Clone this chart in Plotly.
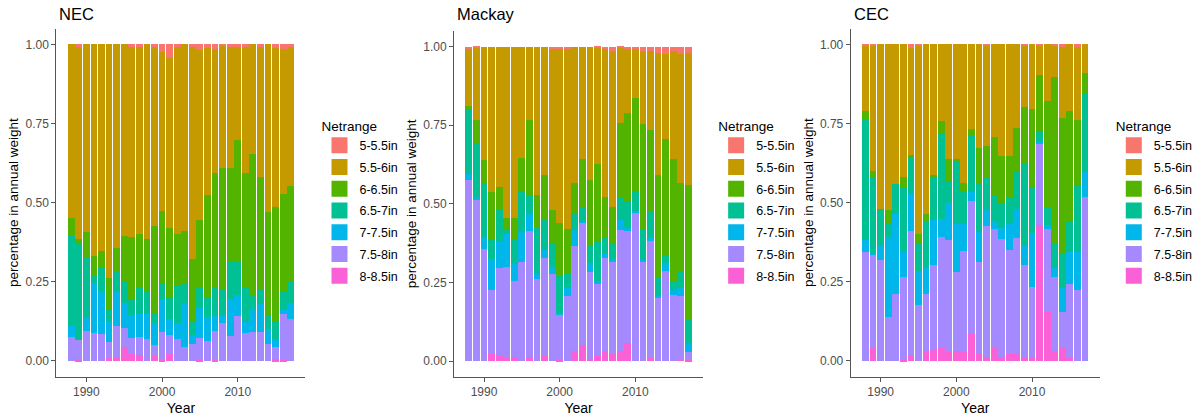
import plotly.graph_objects as go

# ---- data -------------------------------------------------------------
years = list(range(1988, 2018))
netrange = ["5-5.5in", "5.5-6in", "6-6.5in", "6.5-7in", "7-7.5in", "7.5-8in", "8-8.5in"]
palette = ["#F8766D", "#C49A00", "#53B400", "#00C094", "#00B6EB", "#A58AFF", "#FB61D7"]
regions = ["NEC", "Mackay", "CEC"]

# share of annual weight per net range, 1988-2017
nec = {
    "5-5.5in": [0, .005, 0, 0, 0, 0, 0, 0, .005, .007, 0, .007, .023, .044, .007, 0, .007, .018, .01, .015, .002, .004, .006, .004, 0, .007, 0, .011, .015, .004],
    "5.5-6in": [.55, .61, .594, .67, .653, .739, .644, .605, .602, .591, .615, .567, .503, .535, .591, .59, .672, .538, .467, .391, .388, .386, .296, .402, .345, .412, .529, .504, .459, .443],
    "6-6.5in": [.055, .017, .08, .058, .054, .097, .076, .142, .197, .172, .168, .273, .232, .221, .164, .168, .194, .214, .32, .359, .387, .296, .381, .359, .447, .354, .329, .363, .305, .305],
    "6.5-7in": [.285, .303, .191, .027, .072, .037, .062, .069, .051, .083, .07, .034, .05, .067, .118, .06, .045, .064, .063, .093, .08, .118, .109, .113, .045, .047, .041, .056, .06, .064],
    "7-7.5in": [.033, 0, .039, .156, .135, .067, .108, .081, .073, .072, .078, .069, .099, .051, .051, .137, .029, .092, .076, .046, .024, .118, .066, .033, .07, .087, .047, .021, .013, .052],
    "7.5-8in": [.077, .06, .096, .089, .086, .052, .096, .058, .051, .056, .069, .033, .09, .061, .069, .045, .053, .07, .064, .092, .119, .078, .142, .089, .093, .093, .054, .04, .144, .132],
    "8-8.5in": [0, .005, 0, 0, 0, .008, .014, .045, .021, .019, 0, .017, .003, .021, 0, 0, 0, .004, 0, .004, 0, 0, 0, 0, 0, 0, 0, .005, .004, 0],
}

mackay = {
    "5-5.5in": [.008, .003, 0, 0, 0, 0, 0, 0, 0, 0, 0, .008, .006, .008, 0, 0, 0, .003, .006, .015, .003, .008, .005, .013, .015, .02, .025, .015, .025, .02],
    "5.5-6in": [.181, .232, .362, .463, .445, .544, .544, .353, .235, .472, .409, .512, .556, .572, .435, .358, .424, .371, .471, .496, .24, .203, .159, .233, .251, .389, .269, .341, .408, .42],
    "6-6.5in": [.014, .074, .072, .149, .072, .036, .072, .105, .237, .101, .141, .108, .167, .141, .099, .151, .21, .243, .128, .113, .234, .284, .294, .337, .256, .328, .372, .392, .285, .43],
    "6.5-7in": [.203, .168, .171, .065, .1, .017, .076, .133, .061, .151, .097, .072, .117, .045, .049, .046, .055, .129, .053, .052, .073, .083, .064, .096, .088, .056, .021, .026, .046, .071],
    "7-7.5in": [.018, .011, .039, .097, .088, .103, .054, .095, .054, .015, .024, .023, .004, .026, .05, .004, .029, .009, .013, .01, .033, .005, .005, .005, .008, .008, .026, .016, .028, .029],
    "7.5-8in": [.576, .512, .356, .205, .276, .289, .24, .314, .399, .261, .312, .277, .147, .208, .335, .391, .274, .226, .297, .288, .384, .359, .473, .316, .371, .199, .287, .21, .2, .025],
    "8-8.5in": [0, 0, 0, .021, .019, .011, .014, 0, .014, 0, .017, 0, .003, 0, .032, .05, .008, .019, .032, .026, .033, .058, 0, 0, .011, 0, 0, 0, .008, .005],
}

cec = {
    "5-5.5in": [.003, .003, 0, 0, 0, 0, .01, .003, 0, 0, 0, 0, 0, 0, 0, 0, .003, 0, 0, 0, 0, .003, 0, .003, 0, .003, .005, 0, .005, 0],
    "5.5-6in": [.208, .397, .52, .523, .442, .418, .339, .597, .536, .413, .242, .362, .362, .437, .268, .328, .319, .292, .352, .352, .263, .194, .204, .094, .179, .099, .229, .211, .234, .092],
    "6-6.5in": [.028, .018, 0, .04, 0, .037, .011, .031, .026, .01, .039, .069, .006, .026, .018, .111, .096, .185, .152, .134, .136, .182, .245, .179, .337, .529, .426, .351, .207, .061],
    "6.5-7in": [.379, .242, .116, .044, .094, .202, .113, .084, .145, .132, .272, .069, .2, .105, .181, .155, .105, .083, .077, .082, .122, .258, .148, .031, .055, .074, .111, .095, .211, .249],
    "7-7.5in": [.037, .003, .046, .254, .252, .077, .116, .108, .081, .142, .054, .118, .15, .085, .027, .095, .051, .023, .034, .081, .09, .06, .168, .006, .012, .031, .075, .101, .119, .081],
    "7.5-8in": [.345, .297, .318, .139, .212, .261, .392, .177, .18, .268, .353, .353, .25, .318, .422, .29, .415, .377, .371, .33, .363, .292, .221, .258, .263, .232, .109, .231, .224, .517],
    "8-8.5in": [0, .04, 0, 0, 0, .005, .019, 0, .032, .035, .04, .029, .032, .029, .084, .021, .011, .04, .014, .021, .026, .011, .014, .429, .154, .032, .045, .011, 0, 0],
}

year_ticks = [1990, 2000, 2010]
share_ticks = [0, 0.25, 0.5, 0.75, 1.0]
share_labels = ["0.00", "0.25", "0.50", "0.75", "1.00"]

# ---- layout geometry (pixels of a 1198 x 416 canvas) -------------------
W, H = 1198, 416
FONT = "Liberation Sans, Arial, Helvetica, sans-serif"
x_domains = [(57.1, 308.8), (459.1, 710.8), (860.1, 1111.8)]
y_domains = [(28.5, 376.8), (30.8, 376.8), (28.5, 376.8)]
legend_left = [323, 724, 1126]

fig = go.Figure()
panels = [nec, mackay, cec]

for p, data in enumerate(panels):
    ax = "" if p == 0 else str(p + 1)
    leg = "legend" if p == 0 else f"legend{p + 1}"
    # ggplot stacks the first level on top, so draw bottom-up
    for name, col in reversed(list(zip(netrange, palette))):
        fig.add_trace(go.Bar(
            x=years, y=data[name], name=name, width=0.9,
            marker=dict(color=col, line=dict(width=0)),
            xaxis="x" + ax, yaxis="y" + ax, showlegend=False,
            hovertemplate="%{x}: %{y:.3f}<extra>" + name + "</extra>",
        ))
    # legend keys
    for name, col in zip(netrange, palette):
        fig.add_trace(go.Scatter(
            x=[None], y=[None], mode="markers", name=name,
            marker=dict(symbol="square", size=16, color=col, line=dict(width=0)),
            xaxis="x" + ax, yaxis="y" + ax, legend=leg,
            legendgroup=f"{regions[p]}-{name}", showlegend=True,
        ))

axis_common = dict(
    showgrid=False, zeroline=False, showline=True, linecolor="#555555", linewidth=1.2,
    ticks="outside", ticklen=4, tickwidth=1, tickcolor="#555555",
    tickfont=dict(family=FONT, size=12, color="#4d4d4d"),
    fixedrange=True,
)

layout = dict(
    width=W, height=H, margin=dict(l=0, r=0, t=0, b=0),
    paper_bgcolor="white", plot_bgcolor="white",
    barmode="stack", barnorm="fraction", bargap=0.1,
    font=dict(family=FONT, color="black"),
    annotations=[],
)

for p in range(3):
    ax = "" if p == 0 else str(p + 1)
    x0, x1 = x_domains[p]
    yt, yb = y_domains[p]
    layout["xaxis" + ax] = dict(
        axis_common, domain=[x0 / W, x1 / W], range=[1986.05, 2018.95],
        tickvals=year_ticks, anchor="y" + ax,
        title=dict(text="Year", font=dict(family=FONT, size=14, color="black"), standoff=4),
    )
    layout["yaxis" + ax] = dict(
        axis_common, domain=[1 - yb / H, 1 - yt / H], range=[-0.05, 1.05],
        tickvals=share_ticks, ticktext=share_labels, anchor="x" + ax,
        title=dict(text="percentage in annual weight",
                   font=dict(family=FONT, size=13.5, color="black"), standoff=3),
    )
    leg = "legend" if p == 0 else f"legend{p + 1}"
    layout[leg] = dict(
        x=legend_left[p] / W, xanchor="left", y=1 - 113 / H, yanchor="top",
        title=dict(text="Netrange", font=dict(family=FONT, size=13.5, color="black")),
        font=dict(family=FONT, size=12.5, color="black"),
        bgcolor="rgba(0,0,0,0)", borderwidth=0,
        itemsizing="trace", traceorder="grouped", tracegroupgap=2.5,
        itemclick=False, itemdoubleclick=False,
    )
    layout["annotations"].append(dict(
        text=regions[p], xref="paper", yref="paper",
        x=(x0 + 1) / W, y=1 - 14 / H, xanchor="left", yanchor="middle",
        showarrow=False, font=dict(family=FONT, size=16.5, color="black"),
    ))

fig.update_layout(**layout)
fig.write_html("out.html")
